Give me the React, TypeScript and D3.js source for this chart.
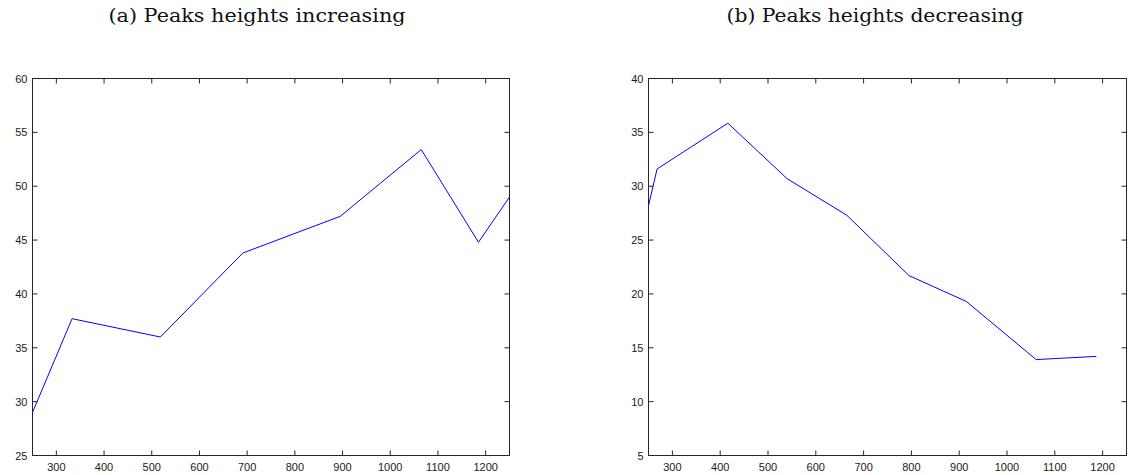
import React from "react";
import * as d3 from "d3";

const xTicks = [300, 400, 500, 600, 700, 800, 900, 1000, 1100, 1200];

const titleA = "(a) Peaks heights increasing";
const xA = [250, 333, 518, 691, 895, 1065, 1185, 1250];
const yA = [29.0, 37.7, 36.0, 43.8, 47.2, 53.4, 44.8, 49.0];
const yTicksA = [25, 30, 35, 40, 45, 50, 55, 60];

const titleB = "(b) Peaks heights decreasing";
const xB = [250, 268, 416, 540, 665, 795, 915, 1061, 1100, 1187];
const yB = [28.2, 31.6, 35.85, 30.7, 27.3, 21.7, 19.3, 13.9, 14.0, 14.2];
const yTicksB = [5, 10, 15, 20, 25, 30, 35, 40];

type PanelProps = {
  x0: number; x1: number; y0: number; y1: number;
  xs: number[]; ys: number[]; yTicks: number[];
  title: string; titleX: number;
};

function Panel({ x0, x1, y0, y1, xs, ys, yTicks, title, titleX }: PanelProps) {
  const xScale = d3.scaleLinear().domain([250, 1250]).range([x0, x1]);
  const yScale = d3.scaleLinear().domain([yTicks[0], yTicks[yTicks.length - 1]]).range([y1, y0]);
  const line = d3.line<number>().x((_, i) => xScale(xs[i])).y((d) => yScale(d));
  const tl = 5;
  const axisColor = "#262626";
  return (
    <g>
      <text x={titleX} y={22} textAnchor="middle" fontFamily="'DejaVu Serif', serif" fontSize={18} textLength={297} lengthAdjust="spacingAndGlyphs" fill="#111">{title}</text>
      <rect x={x0} y={y0} width={x1 - x0} height={y1 - y0} fill="white" stroke={axisColor} strokeWidth={1} />
      {xTicks.map((t) => (
        <g key={"x" + t}>
          <line x1={xScale(t)} x2={xScale(t)} y1={y1} y2={y1 - tl} stroke={axisColor} />
          <line x1={xScale(t)} x2={xScale(t)} y1={y0} y2={y0 + tl} stroke={axisColor} />
          <text x={xScale(t)} y={y1 + 15} textAnchor="middle" fontFamily="'Liberation Sans', Arial, sans-serif" fontSize={11} fill="#1a1a1a">{t}</text>
        </g>
      ))}
      {yTicks.map((t) => (
        <g key={"y" + t}>
          <line x1={x0} x2={x0 + tl} y1={yScale(t)} y2={yScale(t)} stroke={axisColor} />
          <line x1={x1} x2={x1 - tl} y1={yScale(t)} y2={yScale(t)} stroke={axisColor} />
          <text x={x0 - 5} y={yScale(t) + 4} textAnchor="end" fontFamily="'Liberation Sans', Arial, sans-serif" fontSize={11} fill="#1a1a1a">{t}</text>
        </g>
      ))}
      <path d={line(ys) || ""} fill="none" stroke="#0000ff" strokeWidth={1} />
    </g>
  );
}

export default function App() {
  return (
    <svg width={1129} height={475} style={{ position: "absolute", left: 0, top: 0, background: "white" }}>
      <rect width={1129} height={475} fill="white" />
      <Panel x0={32.5} x1={509.5} y0={78.5} y1={455.5} xs={xA} ys={yA} yTicks={yTicksA} title={titleA} titleX={257} />
      <Panel x0={648.5} x1={1126.5} y0={78.5} y1={455.5} xs={xB} ys={yB} yTicks={yTicksB} title={titleB} titleX={875} />
    </svg>
  );
}
